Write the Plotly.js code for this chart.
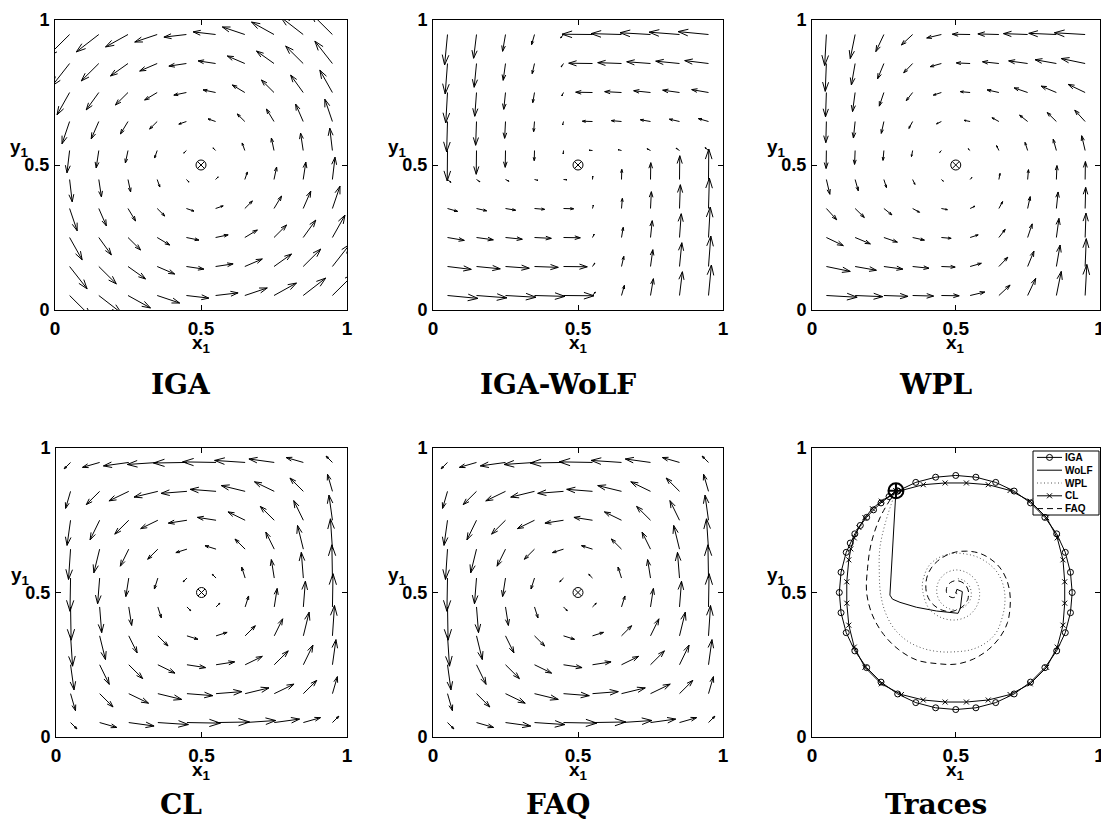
<!DOCTYPE html>
<html>
<head>
<meta charset="utf-8">
<script src="https://cdn.plot.ly/plotly-3.0.1.min.js"></script>
<style>html,body{margin:0;padding:0;background:#fff;}#chart{width:1101px;height:825px;}</style>
</head>
<body>
<div id="chart"></div>
<script>
// ---------- grid of the quiver plots ----------
const gridX = [0.05,0.15,0.25,0.35,0.45,0.55,0.65,0.75,0.85,0.95];
const gridY = [0.05,0.15,0.25,0.35,0.45,0.55,0.65,0.75,0.85,0.95];
// vector components in thousandths of an axis unit; rows = gridY (bottom to top), cols = gridX
const IGA_U = [
 [77,77,77,77,77,77,77,77,77,77],
 [60,60,60,60,60,60,60,60,60,60],
 [43,43,43,43,43,43,43,43,43,43],
 [26,26,26,26,26,26,26,26,26,26],
 [9,9,9,9,9,9,9,9,9,9],
 [-9,-9,-9,-9,-9,-9,-9,-9,-9,-9],
 [-26,-26,-26,-26,-26,-26,-26,-26,-26,-26],
 [-43,-43,-43,-43,-43,-43,-43,-43,-43,-43],
 [-60,-60,-60,-60,-60,-60,-60,-60,-60,-60],
 [-77,-77,-77,-77,-77,-77,-77,-77,-77,-77]];
const IGA_V = [
 [-77,-60,-43,-26,-9,9,26,43,60,77],
 [-77,-60,-43,-26,-9,9,26,43,60,77],
 [-77,-60,-43,-26,-9,9,26,43,60,77],
 [-77,-60,-43,-26,-9,9,26,43,60,77],
 [-77,-60,-43,-26,-9,9,26,43,60,77],
 [-77,-60,-43,-26,-9,9,26,43,60,77],
 [-77,-60,-43,-26,-9,9,26,43,60,77],
 [-77,-60,-43,-26,-9,9,26,43,60,77],
 [-77,-60,-43,-26,-9,9,26,43,60,77],
 [-77,-60,-43,-26,-9,9,26,43,60,77]];
const WOLF_U = [
 [105,105,105,105,105,10,10,10,10,10],
 [82,82,82,82,82,8,8,8,8,8],
 [58,58,58,58,58,6,6,6,6,6],
 [35,35,35,35,35,3,3,3,3,3],
 [12,12,12,12,12,1,1,1,1,1],
 [-1,-1,-1,-1,-1,-12,-12,-12,-12,-12],
 [-3,-3,-3,-3,-3,-35,-35,-35,-35,-35],
 [-6,-6,-6,-6,-6,-58,-58,-58,-58,-58],
 [-8,-8,-8,-8,-8,-82,-82,-82,-82,-82],
 [-10,-10,-10,-10,-10,-105,-105,-105,-105,-105]];
const WOLF_V = [
 [-10,-8,-6,-3,-1,12,35,58,82,105],
 [-10,-8,-6,-3,-1,12,35,58,82,105],
 [-10,-8,-6,-3,-1,12,35,58,82,105],
 [-10,-8,-6,-3,-1,12,35,58,82,105],
 [-10,-8,-6,-3,-1,12,35,58,82,105],
 [-105,-82,-58,-35,-12,1,3,6,8,10],
 [-105,-82,-58,-35,-12,1,3,6,8,10],
 [-105,-82,-58,-35,-12,1,3,6,8,10],
 [-105,-82,-58,-35,-12,1,3,6,8,10],
 [-105,-82,-58,-35,-12,1,3,6,8,10]];
const WPL_U = [
 [107,96,84,73,62,51,39,28,17,6],
 [83,74,66,57,48,39,31,22,13,4],
 [59,53,47,41,34,28,22,16,9,3],
 [36,32,28,24,21,17,13,9,6,2],
 [12,11,9,8,7,6,4,3,2,1],
 [-1,-2,-3,-4,-6,-7,-8,-9,-11,-12],
 [-2,-6,-9,-13,-17,-21,-24,-28,-32,-36],
 [-3,-9,-16,-22,-28,-34,-41,-47,-53,-59],
 [-4,-13,-22,-31,-39,-48,-57,-66,-74,-83],
 [-6,-17,-28,-39,-51,-62,-73,-84,-96,-107]];
const WPL_V = [
 [-6,-4,-3,-2,-1,12,36,59,83,107],
 [-17,-13,-9,-6,-2,11,32,53,74,96],
 [-28,-22,-16,-9,-3,9,28,47,66,84],
 [-39,-31,-22,-13,-4,8,24,41,57,73],
 [-51,-39,-28,-17,-6,7,21,34,48,62],
 [-62,-48,-34,-21,-7,6,17,28,39,51],
 [-73,-57,-41,-24,-8,4,13,22,31,39],
 [-84,-66,-47,-28,-9,3,9,16,22,28],
 [-96,-74,-53,-32,-11,2,6,9,13,17],
 [-107,-83,-59,-36,-12,1,2,3,4,6]];
const CL_U = [
 [22,59,87,105,115,115,105,87,59,22],
 [17,46,68,82,89,89,82,68,46,17],
 [12,33,48,59,64,64,59,48,33,12],
 [7,20,29,35,38,38,35,29,20,7],
 [2,7,10,12,13,13,12,10,7,2],
 [-2,-7,-10,-12,-13,-13,-12,-10,-7,-2],
 [-7,-20,-29,-35,-38,-38,-35,-29,-20,-7],
 [-12,-33,-48,-59,-64,-64,-59,-48,-33,-12],
 [-17,-46,-68,-82,-89,-89,-82,-68,-46,-17],
 [-22,-59,-87,-105,-115,-115,-105,-87,-59,-22]];
const CL_V = [
 [-22,-17,-12,-7,-2,2,7,12,17,22],
 [-59,-46,-33,-20,-7,7,20,33,46,59],
 [-87,-68,-48,-29,-10,10,29,48,68,87],
 [-105,-82,-59,-35,-12,12,35,59,82,105],
 [-115,-89,-64,-38,-13,13,38,64,89,115],
 [-115,-89,-64,-38,-13,13,38,64,89,115],
 [-105,-82,-59,-35,-12,12,35,59,82,105],
 [-87,-68,-48,-29,-10,10,29,48,68,87],
 [-59,-46,-33,-20,-7,7,20,33,46,59],
 [-22,-17,-12,-7,-2,2,7,12,17,22]];
const FAQ_U = [
 [22,59,87,105,115,115,105,87,59,22],
 [17,46,68,82,89,89,82,68,46,17],
 [12,33,48,59,64,64,59,48,33,12],
 [7,20,29,35,38,38,35,29,20,7],
 [2,7,10,12,13,13,12,10,7,2],
 [-2,-7,-10,-12,-13,-13,-12,-10,-7,-2],
 [-7,-20,-29,-35,-38,-38,-35,-29,-20,-7],
 [-12,-33,-48,-59,-64,-64,-59,-48,-33,-12],
 [-17,-46,-68,-82,-89,-89,-82,-68,-46,-17],
 [-22,-59,-87,-105,-115,-115,-105,-87,-59,-22]];
const FAQ_V = [
 [-22,-17,-12,-7,-2,2,7,12,17,22],
 [-59,-46,-33,-20,-7,7,20,33,46,59],
 [-87,-68,-48,-29,-10,10,29,48,68,87],
 [-105,-82,-59,-35,-12,12,35,59,82,105],
 [-115,-89,-64,-38,-13,13,38,64,89,115],
 [-115,-89,-64,-38,-13,13,38,64,89,115],
 [-105,-82,-59,-35,-12,12,35,59,82,105],
 [-87,-68,-48,-29,-10,10,29,48,68,87],
 [-59,-46,-33,-20,-7,7,20,33,46,59],
 [-22,-17,-12,-7,-2,2,7,12,17,22]];
const EQUILIBRIUM = [0.5, 0.5];

// ---------- traces panel ----------
const START = [0.292, 0.852];
const IGA_X = [0.298,0.268,0.240,0.214,0.190,0.168,0.149,0.133,0.119,0.101,0.095,0.101,0.119,0.149,0.190,0.240,0.298,0.361,0.430,0.5,0.570,0.639,0.703,0.760,0.810,0.851,0.881,0.899,0.905,0.899,0.881,0.851,0.810,0.760,0.703,0.639,0.570,0.5,0.430,0.361,0.298];
const IGA_Y = [0.851,0.832,0.810,0.786,0.760,0.732,0.703,0.671,0.639,0.570,0.5,0.430,0.361,0.298,0.240,0.190,0.149,0.119,0.101,0.095,0.101,0.119,0.149,0.190,0.240,0.298,0.361,0.430,0.5,0.570,0.639,0.703,0.760,0.810,0.851,0.881,0.899,0.905,0.899,0.881,0.851];
const WOLF_X = [0.292,0.284,0.277,0.271,0.280,0.306,0.363,0.433,0.508,0.516,0.523,0.504,0.500];
const WOLF_Y = [0.852,0.716,0.600,0.491,0.477,0.466,0.449,0.436,0.428,0.446,0.503,0.511,0.497];
const WPL_X = [0.292,0.256,0.236,0.234,0.238,0.254,0.285,0.332,0.388,0.445,0.500,0.553,0.602,0.640,0.660,0.670,0.670,0.659,0.637,0.606,0.572,0.536,0.500,0.465,0.433,0.407,0.392,0.384,0.386,0.406,0.450,0.500,0.546,0.575,0.583,0.570,0.540,0.500,0.463,0.439,0.434,0.445,0.470,0.500,0.529,0.549,0.554,0.545,0.525,0.500];
const WPL_Y = [0.852,0.744,0.653,0.571,0.500,0.434,0.376,0.332,0.306,0.295,0.295,0.302,0.324,0.360,0.408,0.454,0.500,0.543,0.579,0.606,0.624,0.633,0.636,0.630,0.616,0.593,0.563,0.531,0.500,0.446,0.413,0.405,0.421,0.457,0.500,0.541,0.568,0.578,0.565,0.535,0.500,0.469,0.447,0.440,0.450,0.472,0.500,0.526,0.543,0.549];
const CL_X = [0.292,0.275,0.241,0.210,0.184,0.163,0.147,0.135,0.128,0.121,0.121,0.128,0.147,0.184,0.241,0.311,0.387,0.463,0.537,0.613,0.689,0.759,0.816,0.853,0.873,0.879,0.879,0.873,0.853,0.816,0.759,0.689,0.613,0.537,0.463,0.387,0.311,0.292];
const CL_Y = [0.852,0.837,0.816,0.790,0.759,0.725,0.689,0.651,0.613,0.537,0.463,0.387,0.311,0.241,0.184,0.147,0.128,0.121,0.121,0.128,0.147,0.184,0.241,0.311,0.387,0.463,0.537,0.613,0.689,0.759,0.816,0.853,0.873,0.879,0.879,0.873,0.853,0.852];
const FAQ_X = [0.292,0.238,0.206,0.193,0.190,0.210,0.249,0.302,0.365,0.434,0.500,0.562,0.614,0.654,0.680,0.689,0.688,0.676,0.652,0.618,0.579,0.538,0.500,0.466,0.437,0.415,0.401,0.396,0.398,0.408,0.424,0.443,0.463,0.482,0.500,0.515,0.527,0.535,0.542,0.544,0.545,0.537,0.521,0.500,0.481,0.469,0.468,0.477,0.490,0.500,0.504,0.500];
const FAQ_Y = [0.852,0.762,0.670,0.582,0.500,0.422,0.355,0.302,0.266,0.254,0.252,0.270,0.303,0.346,0.396,0.449,0.500,0.547,0.588,0.618,0.637,0.643,0.640,0.628,0.609,0.585,0.557,0.528,0.500,0.475,0.456,0.443,0.436,0.434,0.438,0.445,0.454,0.465,0.476,0.488,0.500,0.522,0.536,0.541,0.534,0.518,0.500,0.487,0.482,0.486,0.494,0.500];

const PANEL_TITLES = ['IGA','IGA-WoLF','WPL','CL','FAQ','Traces'];
const TICK_VALS = [0, 0.5, 1];
const TICK_TEXT = ['0', '0.5', '1'];
const LEGEND_NAMES = ['IGA','WoLF','WPL','CL','FAQ'];

// ---------- layout geometry (pixels) ----------
const W = 1101, H = 825;
const BOXES = [ // [left, right, top, bottom]
  [55, 347, 20, 310], [433, 723, 20, 310], [812, 1099.5, 20, 310],
  [56, 347, 448, 737], [433, 723, 448, 737], [812, 1099.5, 448, 737]];
const TITLE_CX = [181, 558, 936, 181, 558, 936];
const TITLE_CY = [384, 384, 384, 804, 804, 804];
const LEG_BOX = [1033, 1099, 451, 515]; // left, right, top, bottom

function px(x){ return x / W; }
function py(y){ return 1 - y / H; }

const FONT = 'Liberation Sans, Arial, Helvetica, sans-serif';

// styles shared by the trace lines and their legend samples
const STYLES = {
  IGA:  {line:{color:'#000', width:1}, marker:{symbol:'circle-open', size:6, color:'#000', line:{width:1, color:'#000'}}, mode:'lines+markers'},
  WoLF: {line:{color:'#000', width:1}, mode:'lines'},
  WPL:  {line:{color:'#555', width:1, dash:'1px,2.5px'}, mode:'lines'},
  CL:   {line:{color:'#000', width:1}, marker:{symbol:'x-thin-open', size:5, color:'#000', line:{width:1, color:'#000'}}, mode:'lines+markers'},
  FAQ:  {line:{color:'#000', width:1, dash:'6px,4px'}, mode:'lines'}
};

function quiver(U, V, n){
  const xs = [], ys = [];
  const a = 0.33, b = 0.33;
  for (let i = 0; i < gridY.length; i++){
    for (let j = 0; j < gridX.length; j++){
      const u = U[i][j] / 1000, v = V[i][j] / 1000;
      const x0 = gridX[j], y0 = gridY[i];
      const tx = x0 + u, ty = y0 + v;
      xs.push(x0, tx, null, tx - a*(u + b*v), tx, tx - a*(u - b*v), null);
      ys.push(y0, ty, null, ty - a*(v - b*u), ty, ty - a*(v + b*u), null);
    }
  }
  const s = n === 1 ? '' : String(n);
  return [{
    type:'scatter', mode:'lines', x:xs, y:ys, xaxis:'x'+s, yaxis:'y'+s,
    line:{color:'#000', width:1}, showlegend:false, hoverinfo:'skip', connectgaps:false
  },{
    type:'scatter', mode:'markers', x:[EQUILIBRIUM[0]], y:[EQUILIBRIUM[1]], xaxis:'x'+s, yaxis:'y'+s,
    marker:{symbol:'circle-x-open', size:10, color:'#000', line:{width:1, color:'#000'}},
    showlegend:false, hoverinfo:'skip'
  }];
}

let data = [];
data = data.concat(quiver(IGA_U, IGA_V, 1));
data = data.concat(quiver(WOLF_U, WOLF_V, 2));
data = data.concat(quiver(WPL_U, WPL_V, 3));
data = data.concat(quiver(CL_U, CL_V, 4));
data = data.concat(quiver(FAQ_U, FAQ_V, 5));

function traceLine(name, xs, ys, spline){
  const st = STYLES[name];
  const t = {type:'scatter', mode:st.mode, name:name, x:xs, y:ys, xaxis:'x6', yaxis:'y6',
    line:Object.assign({}, st.line), showlegend:false, hoverinfo:'skip'};
  if (st.marker) t.marker = st.marker;
  if (spline){ t.line.shape = 'spline'; t.line.smoothing = 1; }
  return t;
}
data.push(traceLine('IGA', IGA_X, IGA_Y, false));
data.push(traceLine('WoLF', WOLF_X, WOLF_Y, false));
data.push(traceLine('WPL', WPL_X, WPL_Y, true));
data.push(traceLine('CL', CL_X, CL_Y, false));
data.push(traceLine('FAQ', FAQ_X, FAQ_Y, true));
data.push({type:'scatter', mode:'markers', x:[START[0]], y:[START[1]], xaxis:'x6', yaxis:'y6', showlegend:false,
  marker:{symbol:'circle-cross-open', size:15, color:'#000', line:{width:2, color:'#000'}}, hoverinfo:'skip'});

// compact legend drawn on its own hidden axis (units = pixels inside the legend box)
const legW = LEG_BOX[1] - LEG_BOX[0], legH = LEG_BOX[3] - LEG_BOX[2];
const legRowH = legH / LEGEND_NAMES.length;
LEGEND_NAMES.forEach((name, k) => {
  const st = STYLES[name];
  const yy = legRowH * (k + 0.5);
  const t = {type:'scatter', mode:'lines', x:[4, 16.5, 29], y:[yy, yy, yy], xaxis:'x7', yaxis:'y7',
    line:Object.assign({}, st.line), showlegend:false, hoverinfo:'skip'};
  if (st.marker){
    t.mode = 'lines+markers';
    t.marker = Object.assign({}, st.marker, {opacity:[0, 1, 0]});
  }
  data.push(t);
});

const layout = {
  width: W, height: H,
  margin:{l:0, r:0, t:0, b:0},
  paper_bgcolor:'#fff', plot_bgcolor:'rgba(0,0,0,0)',
  font:{family:FONT, color:'#000'},
  showlegend:false,
  annotations: [],
  shapes: [{type:'rect', xref:'paper', yref:'paper', x0:px(LEG_BOX[0]), x1:px(LEG_BOX[1]), y0:py(LEG_BOX[3]), y1:py(LEG_BOX[2]),
    line:{color:'#000', width:1}, fillcolor:'rgba(0,0,0,0)', layer:'above'}],
  xaxis7:{domain:[px(LEG_BOX[0]), px(LEG_BOX[1])], range:[0, legW], visible:false, fixedrange:true, anchor:'y7'},
  yaxis7:{domain:[py(LEG_BOX[3]), py(LEG_BOX[2])], range:[legH, 0], visible:false, fixedrange:true, anchor:'x7'}
};

LEGEND_NAMES.forEach((name, k) => {
  layout.annotations.push({xref:'x7', yref:'y7', x:30, y:legRowH*(k+0.5), xanchor:'left', yanchor:'middle',
    text:'<b>'+name+'</b>', showarrow:false, font:{size:10, family:FONT}});
});

BOXES.forEach((b, k) => {
  const s = k === 0 ? '' : String(k+1);
  const axCommon = {
    range:[0,1], tickvals:TICK_VALS, ticktext:TICK_TEXT.map(t => '<b>'+t+'</b>'), ticks:'inside', ticklen:5, tickwidth:1, tickcolor:'#000',
    showline:true, linecolor:'#000', linewidth:1, mirror:'allticks', showgrid:false, zeroline:false, fixedrange:true,
    ticklabeloverflow:'allow'
  };
  layout['xaxis'+s] = Object.assign({}, axCommon, {domain:[px(b[0]), px(b[1])], anchor:'y'+s, ticklabelstandoff:1,
    tickfont:{family:FONT, size:19, color:'#000'}});
  layout['yaxis'+s] = Object.assign({}, axCommon, {domain:[py(b[3]), py(b[2])], anchor:'x'+s, ticklabelstandoff:1,
    tickfont:{family:FONT, size:18, color:'#000'}});
  const cx = (b[0]+b[1])/2, cy = (b[2]+b[3])/2;
  layout.annotations.push({xref:'paper', yref:'paper', x:px(cx), y:py(b[3]+34), xanchor:'center', yanchor:'middle',
    text:'<b>x<sub>1</sub></b>', showarrow:false, font:{size:19, family:FONT}});
  layout.annotations.push({xref:'paper', yref:'paper', x:px(b[0]-36), y:py(cy-17), xanchor:'center', yanchor:'middle',
    text:'<b>y<sub>1</sub></b>', showarrow:false, font:{size:19, family:FONT}});
  layout.annotations.push({xref:'paper', yref:'paper', x:px(TITLE_CX[k]), y:py(TITLE_CY[k]), xanchor:'center', yanchor:'middle',
    text:'<b>'+PANEL_TITLES[k]+'</b>', showarrow:false, font:{size:28, family:'DejaVu Serif, serif'}});
});

Plotly.newPlot('chart', data, layout, {staticPlot:true, displayModeBar:false});
</script>
</body>
</html>
